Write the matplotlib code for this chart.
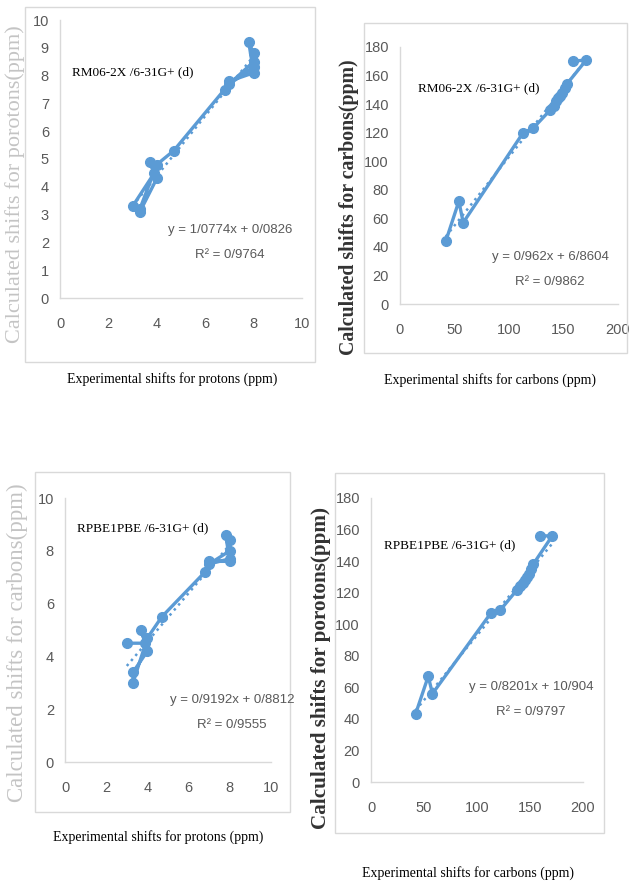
import matplotlib
matplotlib.use("Agg")
import matplotlib.pyplot as plt
from matplotlib.patches import Rectangle
import numpy as np

# ---------------- data ----------------
exp_H = [3.0, 3.9, 3.7, 4.0, 3.3, 3.3, 4.0, 4.7, 6.8, 7.0, 8.0, 7.8, 8.0, 8.0, 7.0, 8.0]
calc_H_M06 = [3.3, 4.5, 4.9, 4.3, 3.1, 3.2, 4.8, 5.3, 7.5, 7.8, 8.1, 9.2, 8.8, 8.5, 7.7, 8.3]
calc_H_PBE = [4.5, 4.5, 5.0, 4.2, 3.4, 3.0, 4.7, 5.5, 7.2, 7.6, 7.6, 8.6, 8.4, 8.0, 7.5, 7.7]

exp_C = [42, 54, 58, 113, 122, 138, 141, 143, 145, 147, 149, 151, 153, 171, 159]
calc_C_M06 = [44, 72, 57, 120, 123, 136, 139, 142, 144, 146, 148, 151, 154, 171, 170]
calc_C_PBE = [43, 67, 56, 107, 109, 122, 124, 126, 128, 130, 132, 135, 138, 156, 156]

fit_H_M06 = (1.0774, 0.0826)
fit_C_M06 = (0.962, 6.8604)
fit_H_PBE = (0.9192, 0.8812)
fit_C_PBE = (0.8201, 10.904)

eq_H_M06 = ["y = 1/0774x + 0/0826", "R² = 0/9764"]
eq_C_M06 = ["y = 0/962x + 6/8604", "R² = 0/9862"]
eq_H_PBE = ["y = 0/9192x + 0/8812", "R² = 0/9555"]
eq_C_PBE = ["y = 0/8201x + 10/904", "R² = 0/9797"]

title_M06 = "RM06-2X /6-31G+ (d)"
title_PBE = "RPBE1PBE /6-31G+ (d)"

xlab_H = "Experimental shifts for protons (ppm)"
xlab_C = "Experimental shifts for carbons (ppm)"
ylab_1 = "Calculated shifts for porotons(ppm)"
ylab_2 = "Calculated shifts for carbons(ppm)"
ylab_3 = "Calculated shifts for carbons(ppm)"
ylab_4 = "Calculated shifts for porotons(ppm)"

ticks_H_x = [0, 2, 4, 6, 8, 10]
ticks_H1_y = [0, 1, 2, 3, 4, 5, 6, 7, 8, 9, 10]
ticks_H3_y = [0, 2, 4, 6, 8, 10]
ticks_C_x = [0, 50, 100, 150, 200]
ticks_C_y = [0, 20, 40, 60, 80, 100, 120, 140, 160, 180]

# ---------------- style ----------------
W, H = 629, 884
BLUE = "#5B9BD5"
GRID = "#D9D9D9"
TICKC = "#595959"
NARROW = ["Liberation Sans", "DejaVu Sans"]
SERIF = ["Liberation Serif", "DejaVu Serif"]

fig = plt.figure(figsize=(W / 100, H / 100), dpi=100)
fig.patch.set_facecolor("white")


def fx(px):
    return px / W


def fy(py):
    return 1 - py / H


def box(l, t, r, b):
    fig.patches.append(Rectangle((fx(l), fy(b)), fx(r) - fx(l), fy(t) - fy(b),
                                 transform=fig.transFigure, fill=False,
                                 edgecolor=GRID, linewidth=1.0, zorder=0))


def make_axes(l, t, r, b):
    return fig.add_axes([fx(l), fy(b), fx(r) - fx(l), fy(t) - fy(b)])


def panel(rect, xs, ys, fit, eq, eqpos, title, titlepos, xlim, ylim, xt, yt):
    ax = make_axes(*rect)
    ax.plot(xs, ys, "-o", color=BLUE, lw=2.4, ms=7, mec=BLUE, mfc=BLUE, zorder=3)
    xr = np.array([min(xs), max(xs)])
    ax.plot(xr, np.polyval(fit, xr), ":", color=BLUE, lw=1.8, zorder=2)
    ax.set_xlim(*xlim)
    ax.set_ylim(*ylim)
    ax.set_xticks(xt)
    ax.set_yticks(yt)
    for s in ("top", "right"):
        ax.spines[s].set_visible(False)
    for s in ("left", "bottom"):
        ax.spines[s].set_color(GRID)
        ax.spines[s].set_linewidth(1.0)
    ax.tick_params(axis="both", length=0, colors=TICKC, labelsize=10.5)
    ax.tick_params(axis="x", pad=14)
    ax.tick_params(axis="y", pad=8)
    for lab in ax.get_xticklabels() + ax.get_yticklabels():
        lab.set_family(NARROW)
    ax.patch.set_alpha(0)
    # equation
    fig.text(fx(eqpos[0]), fy(eqpos[1]), eq[0], ha="center", va="center",
             fontsize=9.5, color=TICKC, family=NARROW)
    fig.text(fx(eqpos[0]), fy(eqpos[1] + 25), eq[1], ha="center", va="center",
             fontsize=9.5, color=TICKC, family=NARROW)
    fig.text(fx(titlepos[0]), fy(titlepos[1]), title, ha="left", va="center",
             fontsize=9.5, color="black", family=SERIF)
    return ax


# boxes
box(25, 7, 315, 362)
box(364, 23, 627, 353)
box(35, 472, 290, 812)
box(335, 473, 604, 833)

panel((60, 20, 302, 298), exp_H, calc_H_M06, fit_H_M06, eq_H_M06, (230, 230),
      title_M06, (72, 72), (0, 10), (0, 10), ticks_H_x, ticks_H1_y)
panel((400, 47, 618, 304), exp_C, calc_C_M06, fit_C_M06, eq_C_M06, (550, 257),
      title_M06, (418, 88), (0, 200), (0, 180), ticks_C_x, ticks_C_y)
panel((65, 498, 271, 762), exp_H, calc_H_PBE, fit_H_PBE, eq_H_PBE, (232, 700),
      title_PBE, (77, 528), (0, 10), (0, 10), ticks_H_x, ticks_H3_y)
panel((371, 498, 583, 782), exp_C, calc_C_PBE, fit_C_PBE, eq_C_PBE, (531, 687),
      title_PBE, (384, 545), (0, 200), (0, 180), ticks_C_x, ticks_C_y)

# axis labels
fig.text(fx(172), fy(379), xlab_H, ha="center", va="center", fontsize=10, family=SERIF, color="black")
fig.text(fx(490), fy(380), xlab_C, ha="center", va="center", fontsize=10, family=SERIF, color="black")
fig.text(fx(158), fy(837), xlab_H, ha="center", va="center", fontsize=10, family=SERIF, color="black")
fig.text(fx(468), fy(873), xlab_C, ha="center", va="center", fontsize=10, family=SERIF, color="black")

fig.text(fx(15), fy(184), ylab_1, ha="center", va="center", rotation=90, fontsize=16, family=SERIF, color="#C4C4C4")
fig.text(fx(349), fy(207), ylab_2, ha="center", va="center", rotation=90, fontsize=14.3, family=SERIF, color="#333333", fontweight="bold")
fig.text(fx(17), fy(643), ylab_3, ha="center", va="center", rotation=90, fontsize=16.5, family=SERIF, color="#C4C4C4")
fig.text(fx(321), fy(668), ylab_4, ha="center", va="center", rotation=90, fontsize=15.2, family=SERIF, color="#333333", fontweight="bold")

fig.savefig("out.png", dpi=100, facecolor="white")
